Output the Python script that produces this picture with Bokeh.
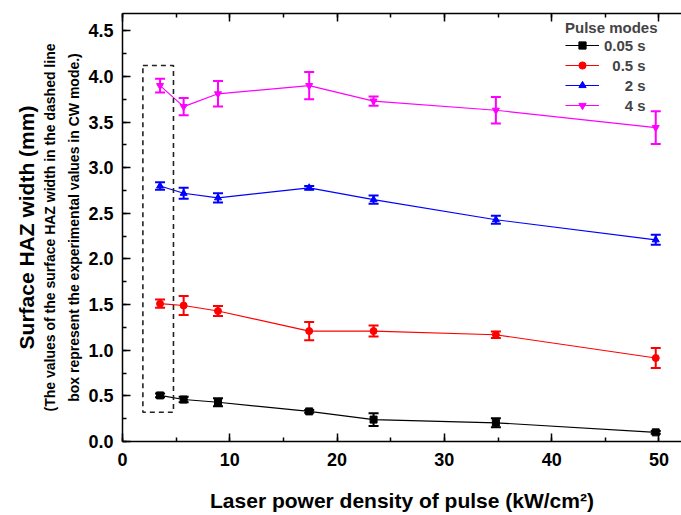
import math
from bokeh.plotting import figure
from bokeh.models import (ColumnDataSource, Whisker, TeeHead, LinearAxis, Legend, LegendItem,
                          Title, BoxAnnotation, Range1d, SingleIntervalTicker, NumeralTickFormatter)
from bokeh.embed import file_html
from bokeh.resources import INLINE

# ---------------- data ----------------
power = [3.5, 5.7, 8.9, 17.4, 23.4, 34.8, 49.7]

w_005 = [0.505, 0.46, 0.43, 0.33, 0.24, 0.205, 0.10]
e_005 = [0.02, 0.03, 0.045, 0.015, 0.07, 0.05, 0.015]

w_05 = [1.51, 1.49, 1.43, 1.21, 1.21, 1.17, 0.915]
e_05 = [0.045, 0.105, 0.055, 0.10, 0.06, 0.035, 0.11]

w_2 = [2.80, 2.72, 2.67, 2.78, 2.65, 2.43, 2.21]
e_2 = [0.04, 0.06, 0.05, 0.02, 0.045, 0.045, 0.055]

w_4 = [3.90, 3.67, 3.81, 3.90, 3.73, 3.63, 3.44]
e_4 = [0.075, 0.095, 0.14, 0.15, 0.05, 0.145, 0.18]

series_labels = ["0.05 s", "\u20070.5 s", "\u2007\u2007\u20082 s", "\u2007\u2007\u20084 s"]
series_colors = ["#000000", "#ff0000", "#0000ff", "#ff00ff"]
series_markers = ["square", "circle", "triangle", "inverted_triangle"]
series_y = [w_005, w_05, w_2, w_4]
series_e = [e_005, e_05, e_2, e_4]

y_title = "Surface HAZ width (mm)"
y_note_1 = "(The values of the surface HAZ width in the dashed line"
y_note_2 = "box represent the experimental values in CW mode.)"
x_title = "Laser power density of pulse (kW/cm\u00b2)"

FONT = "Liberation Sans"

p = figure(width=681, height=515, output_backend="svg", toolbar_location=None,
           x_range=Range1d(0, 52.1), y_range=Range1d(0, 4.69),
           min_border_left=122, min_border_right=0, min_border_top=13, min_border_bottom=74)
p.xgrid.visible = False
p.ygrid.visible = False
p.outline_line_color = None
p.background_fill_color = "white"
p.border_fill_color = "white"

items = []
for lab, col, mk, ys, es in zip(series_labels, series_colors, series_markers, series_y, series_e):
    src = ColumnDataSource(dict(x=power, y=ys,
                                lo=[a - b for a, b in zip(ys, es)],
                                hi=[a + b for a, b in zip(ys, es)]))
    w = Whisker(base="x", lower="lo", upper="hi", source=src, dimension="height",
                line_color=col, line_width=2,
                upper_head=TeeHead(size=10, line_color=col, line_width=2),
                lower_head=TeeHead(size=10, line_color=col, line_width=2))
    p.add_layout(w)
    r1 = p.line("x", "y", source=src, line_color=col, line_width=1.2)
    r2 = p.scatter("x", "y", source=src, marker=mk, size=7, color=col)
    items.append(LegendItem(label=lab, renderers=[r1, r2]))

# dashed box marking CW-mode values
box = BoxAnnotation(left=1.9, right=4.75, bottom=0.32, top=4.12,
                    fill_color=None, fill_alpha=0, line_color="#222222", line_alpha=1,
                    line_width=1.6, line_dash="5 4")
p.add_layout(box)

legend = Legend(items=items, title="Pulse modes", location=(443, 327),
                background_fill_alpha=0, border_line_color=None,
                padding=4, margin=0, spacing=2, glyph_width=34, glyph_height=18,
                label_height=18, label_standoff=5,
                label_text_font=FONT, label_text_font_style="bold", label_text_font_size="15px",
                title_text_font=FONT, title_text_font_style="bold", title_text_font_size="15px",
                title_standoff=0)
p.add_layout(legend)

# axes styling
def style_axis(ax):
    ax.axis_line_width = 1.5
    ax.axis_line_color = "black"
    ax.major_tick_in = 8
    ax.major_tick_out = 0
    ax.minor_tick_in = 4
    ax.minor_tick_out = 0
    ax.major_tick_line_width = 1.5
    ax.minor_tick_line_width = 1.5
    ax.major_label_text_font = FONT
    ax.major_label_text_font_style = "bold"
    ax.major_label_text_font_size = "18px"
    ax.major_label_text_color = "black"

xa = p.xaxis[0]
style_axis(xa)
xa.ticker = SingleIntervalTicker(interval=10, num_minor_ticks=2)
xa.major_label_standoff = 11
xa.axis_label = x_title
xa.axis_label_text_font = FONT
xa.axis_label_text_font_style = "bold"
xa.axis_label_text_font_size = "21px"
xa.axis_label_text_color = "black"
xa.axis_label_standoff = 20

ya = p.yaxis[0]
style_axis(ya)
ya.ticker = SingleIntervalTicker(interval=0.5, num_minor_ticks=2)
ya.formatter = NumeralTickFormatter(format="0.0")
ya.major_label_standoff = 9

top = LinearAxis(ticker=SingleIntervalTicker(interval=10, num_minor_ticks=2))
style_axis(top)
top.major_label_text_font_size = "1px"
top.major_label_text_color = None
top.major_label_standoff = 0
p.add_layout(top, "above")

# y-axis title lines, stacked outward from the axis
for txt, size, so in [(y_note_2, "14px", 8), (y_note_1, "14px", 3), (y_title, "21px", 2)]:
    p.add_layout(Title(text=txt, align="center", text_font=FONT, text_font_style="bold",
                       text_font_size=size, text_color="black", standoff=so), "left")

open("out.html", "w").write(file_html(p, INLINE))
